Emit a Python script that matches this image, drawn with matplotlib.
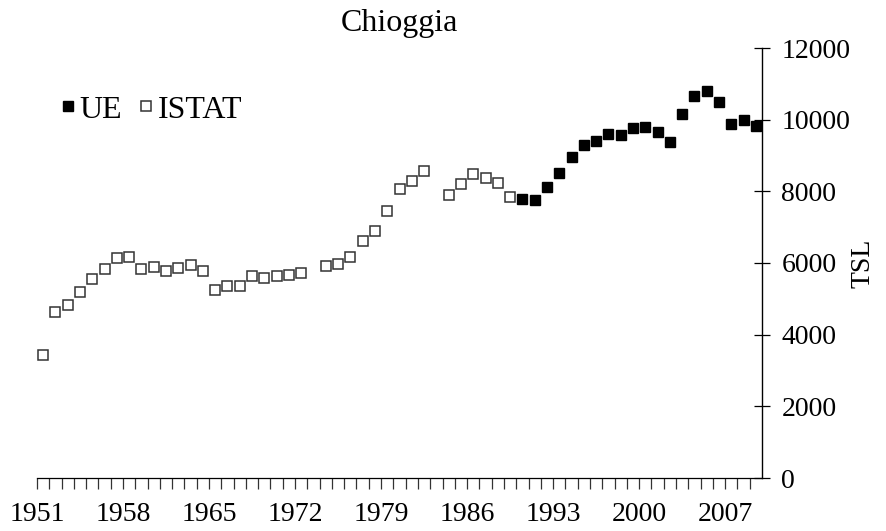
import matplotlib
matplotlib.use("Agg")
import matplotlib.pyplot as plt
from matplotlib.ticker import FixedLocator, NullFormatter

plt.rcParams['font.family'] = ['Liberation Serif', 'DejaVu Serif']

title = "Chioggia"
ylabel = "TSL"

istat_years = [1951, 1952, 1953, 1954, 1955, 1956, 1957, 1958, 1959, 1960,
               1961, 1962, 1963, 1964, 1965, 1966, 1967, 1968, 1969, 1970,
               1971, 1972, 1974, 1975, 1976, 1977, 1978, 1979, 1980, 1981,
               1982, 1984, 1985, 1986, 1987, 1988, 1989]
istat_values = [3430, 4620, 4820, 5180, 5550, 5840, 6130, 6160, 5820, 5880,
                5770, 5860, 5940, 5770, 5240, 5370, 5370, 5640, 5570, 5640,
                5670, 5710, 5910, 5970, 6160, 6610, 6890, 7450, 8070, 8300,
                8560, 7910, 8200, 8480, 8380, 8220, 7850]

ue_years = list(range(1990, 2010))
ue_values = [7790, 7770, 8130, 8520, 8970, 9280, 9400, 9590, 9560, 9760,
             9790, 9650, 9370, 10150, 10660, 10800, 10490, 9870, 9980, 9830]

tick_label_years = [1951, 1958, 1965, 1972, 1979, 1986, 1993, 2000, 2007]
y_ticks = [0, 2000, 4000, 6000, 8000, 10000, 12000]

fig = plt.figure(figsize=(8.86, 5.31), dpi=100)
ax = fig.add_axes([37/886, 1-478/531, (762-37)/886, (478-48)/531])

ax.plot(ue_years, ue_values, linestyle='none', marker='s', markersize=7.5,
        markerfacecolor='black', markeredgecolor='black', label='UE')
ax.plot(istat_years, istat_values, linestyle='none', marker='s', markersize=7,
        markerfacecolor='white', markeredgecolor='#333333', markeredgewidth=1.1,
        label='ISTAT')

ax.set_xlim(1950.5, 2009.5)
ax.set_ylim(0, 12000)

# x axis: a tick at each year boundary, labels every 7 years
ax.xaxis.set_major_locator(FixedLocator([y - 0.5 for y in tick_label_years]))
ax.set_xticklabels([str(y) for y in tick_label_years])
ax.xaxis.set_minor_locator(FixedLocator([1950.5 + k for k in range(59)]))
ax.xaxis.set_minor_formatter(NullFormatter())
ax.tick_params(axis='x', which='both', direction='out', length=8, width=0.9,
               color='#333333', labelsize=20, pad=9)

ax.yaxis.tick_right()
ax.yaxis.set_label_position('right')
ax.set_yticks(y_ticks)
ax.set_yticklabels([str(v) for v in y_ticks])
ax.tick_params(axis='y', which='both', direction='inout', length=12, width=0.9,
               labelsize=20, pad=8)
ax.set_ylabel(ylabel, fontsize=20, labelpad=0)

for s in ['left', 'top']:
    ax.spines[s].set_visible(False)
ax.spines['right'].set_linewidth(1.0)
ax.spines['bottom'].set_linewidth(0.9)

ax.set_title(title, fontsize=23, pad=12)

leg = ax.legend(loc='upper left', bbox_to_anchor=(0.015, 0.92), ncol=2,
                frameon=False, fontsize=23, handlelength=0.45,
                handletextpad=0.15, columnspacing=0.5, markerscale=1.0,
                borderaxespad=0)

fig.savefig('out.png', dpi=100)
